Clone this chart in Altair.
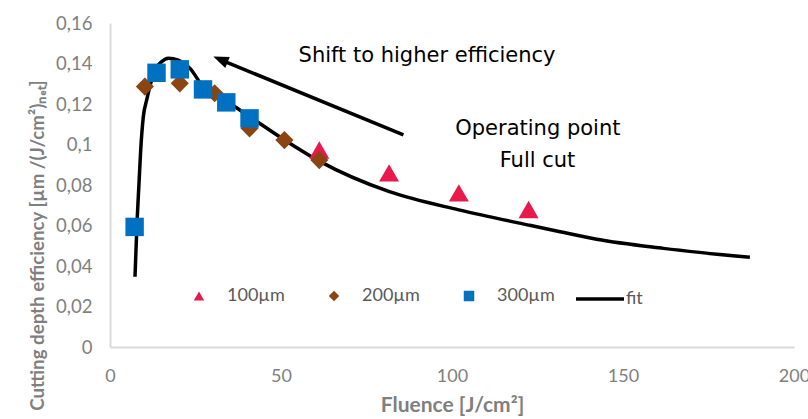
import altair as alt
import pandas as pd

# ---------------- data ----------------
series_names = ["100µm", "200µm", "300µm"]
series_colors = ["#E8194B", "#8B4513", "#0070C0"]
series_shapes = ["triangle-up", "diamond", "square"]
series_sizes = [400, 330, 340]

fluence_100 = [61.2, 81.6, 102.0, 122.4]
eff_100 = [0.0973, 0.0860, 0.0761, 0.0679]

fluence_200 = [10.2, 20.4, 30.6, 40.8, 51.0, 61.2]
eff_200 = [0.1286, 0.1302, 0.1253, 0.1080, 0.1022, 0.0923]

fluence_300 = [7.2, 13.6, 20.4, 27.2, 34.0, 40.8]
eff_300 = [0.0593, 0.1354, 0.1371, 0.1272, 0.1208, 0.1129]

fit_fluence = [7.31, 7.60, 7.98, 8.48, 8.98, 9.74, 10.73, 11.90, 13.16, 15.12,
               17.05, 19.97, 23.39, 27.2, 34.0, 40.8, 50.8, 61.2, 81.7, 102.0,
               122.4, 131.6, 142.3, 161.8, 187.1]
fit_eff = [0.0347, 0.0479, 0.0643, 0.0808, 0.0973, 0.1137, 0.1220, 0.1302, 0.1368, 0.1409,
           0.1426, 0.1417, 0.1376, 0.1285, 0.1215, 0.1138, 0.1025, 0.0918, 0.0767, 0.0677,
           0.0602, 0.0569, 0.0532, 0.0487, 0.0443]

x_ticks = [0, 50, 100, 150, 200]
y_ticks = [0, 0.02, 0.04, 0.06, 0.08, 0.10, 0.12, 0.14, 0.16]

# annotations (in data coordinates)
note_labels = ["Shift to higher efficiency", "Operating point", "Full cut"]
note_x = [92.7, 125.1, 125.0]
note_y = [0.1409, 0.1047, 0.0890]

arrow_tail = (85.8, 0.1047)
arrow_shaft_end = (34.0, 0.1407)
arrow_tip = (30.2, 0.1434)

# ---------------- tables ----------------
rows = []
for name, xs, ys in zip(series_names, [fluence_100, fluence_200, fluence_300],
                        [eff_100, eff_200, eff_300]):
    for xv, yv in zip(xs, ys):
        rows.append({"series": name, "fluence": xv, "eff": yv})
points = pd.DataFrame(rows)
fit = pd.DataFrame({"series": ["fit"] * len(fit_fluence), "fluence": fit_fluence, "eff": fit_eff})
notes = pd.DataFrame({"label": note_labels, "fluence": note_x, "eff": note_y})
shaft = pd.DataFrame({"fluence": [arrow_tail[0]], "eff": [arrow_tail[1]],
                      "fluence2": [arrow_shaft_end[0]], "eff2": [arrow_shaft_end[1]]})
head = pd.DataFrame({"fluence": [arrow_tip[0]], "eff": [arrow_tip[1]]})

# ---------------- scales / axes ----------------
x_scale = alt.Scale(domain=[0, 200], nice=False, zero=False)
y_scale = alt.Scale(domain=[0, 0.16], nice=False, zero=False)

x_axis = alt.Axis(values=x_ticks, title="Fluence [J/cm²]", grid=False, ticks=False, tickSize=0,
                  labelFlush=False, domainColor="#d9d9d9", domainWidth=2,
                  labelFont="Lato", labelFontSize=18, labelColor="#7f7f7f",
                  labelBaseline="alphabetic", labelPadding=34,
                  titleFont="Lato", titleFontSize=21, titleFontWeight="bold", titleColor="#7f7f7f",
                  titleBaseline="alphabetic", titleY=64)
y_axis = alt.Axis(values=y_ticks, title="Cutting depth efficiency [µm /(J/cm²)ₙₑₜ]", grid=False,
                  ticks=False, tickSize=0, domainColor="#d9d9d9", domainWidth=2,
                  labelFont="Lato", labelFontSize=18.5, labelColor="#7f7f7f", labelPadding=18,
                  labelBaseline="middle", format=".2~f",
                  labelExpr="replace(datum.label, '.', ',')",
                  titleFont="Lato", titleFontSize=18.7, titleFontWeight="bold", titleColor="#7f7f7f",
                  titleAngle=270, titleAlign="center", titleBaseline="alphabetic",
                  titleX=-67, titleY=222)

X = alt.X("fluence:Q", scale=x_scale, axis=x_axis)
Y = alt.Y("eff:Q", scale=y_scale, axis=y_axis)

legend_common = dict(title=None, orient="none", labelFont="Lato", labelFontSize=18,
                     labelColor="#595959", padding=0)

fit_line = alt.Chart(fit).mark_line(strokeWidth=3.5, interpolate="monotone").encode(
    x=X, y=Y,
    color=alt.Color("series:N", scale=alt.Scale(domain=["fit"], range=["black"]),
                    legend=alt.Legend(legendX=464, legendY=250, symbolType="stroke",
                                      symbolSize=2304, symbolStrokeWidth=3.5, labelOffset=0,
                                      **legend_common)),
)

pts_legend = alt.Legend(direction="horizontal", legendX=80, legendY=264, symbolSize=110,
                        symbolStrokeWidth=0, labelOffset=19, columnPadding=40, **legend_common)

point_layers = []
for name, sz in zip(series_names, series_sizes):
    point_layers.append(
        alt.Chart(points).transform_filter(alt.datum.series == name)
        .mark_point(filled=True, opacity=1, strokeWidth=0, size=sz)
        .encode(
            x=X, y=Y,
            color=alt.Color("series:N", scale=alt.Scale(domain=series_names, range=series_colors),
                            legend=pts_legend),
            shape=alt.Shape("series:N", scale=alt.Scale(domain=series_names, range=series_shapes),
                            legend=pts_legend),
        )
    )
pts = alt.layer(*point_layers)

texts = alt.Chart(notes).mark_text(font="DejaVu Sans", fontSize=21, color="black",
                                   align="center", baseline="alphabetic").encode(
    x=X, y=Y, text="label:N")

rule = alt.Chart(shaft).mark_rule(color="black", strokeWidth=3.5, strokeCap="butt").encode(
    x=X, y=Y, x2="fluence2:Q", y2="eff2:Q")

arrow_head = alt.Chart(head).mark_point(shape="M0,0L0.38,1L-0.38,1Z", filled=True, opacity=1,
                                        color="black", size=950, angle=292.4,
                                        strokeWidth=0).encode(x=X, y=Y)

chart = alt.layer(fit_line, pts, texts, rule, arrow_head).resolve_scale(
    color="independent", shape="independent"
).properties(
    width=684, height=324,
    autosize=alt.AutoSizeParams(type="none"),
    padding={"left": 110, "top": 23, "right": 14, "bottom": 72},
).configure_view(stroke="transparent")

chart.save("out.html", embed_options={"renderer": "svg", "actions": False})
